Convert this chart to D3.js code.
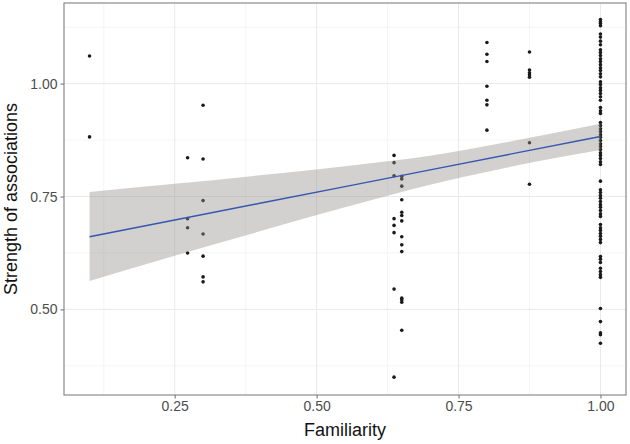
<!DOCTYPE html>
<html><head><meta charset="utf-8">
<script src="https://cdn.jsdelivr.net/npm/d3@7"></script>
<style>body{margin:0;background:#fff}svg{display:block}</style>
</head><body>
<svg id="c" width="630" height="444"></svg>
<script>
const famLevels = [0.1, 0.2727, 0.3, 0.6364, 0.65, 0.8, 0.875, 1.0];
const s010 = [1.061, 0.882];
const s027 = [0.836, 0.701, 0.681, 0.625];
const s030 = [0.952, 0.833, 0.741, 0.667, 0.618, 0.572, 0.561];
const s064 = [0.841, 0.825, 0.796, 0.701, 0.686, 0.670, 0.545, 0.350];
const s065 = [0.795, 0.789, 0.773, 0.743, 0.715, 0.708, 0.696, 0.661, 0.643, 0.628, 0.525, 0.521, 0.516, 0.454];
const s080 = [1.091, 1.065, 1.049, 0.994, 0.963, 0.953, 0.897];
const s0875 = [1.070, 1.030, 1.024, 1.019, 1.014, 0.869, 0.777];
const s100 = [1.142, 1.137, 1.133, 1.128, 1.110, 1.103, 1.094, 1.086,
  1.075, 1.069, 1.062, 1.055, 1.049, 1.042, 1.035, 1.029, 1.022, 1.015,
  1.004, 0.998, 0.991, 0.985, 0.978, 0.971, 0.963, 0.947, 0.940, 0.934,
  0.914, 0.907, 0.900, 0.894, 0.887, 0.881, 0.874, 0.867, 0.861, 0.854, 0.847, 0.841, 0.834, 0.827, 0.821,
  0.784, 0.765, 0.759, 0.752, 0.746, 0.739, 0.732, 0.726, 0.719, 0.712, 0.706,
  0.688, 0.681, 0.675, 0.668, 0.662, 0.655, 0.648,
  0.617, 0.611, 0.604, 0.591, 0.584, 0.577, 0.571,
  0.502, 0.473, 0.448, 0.444, 0.425];
const groups = [s010, s027, s030, s064, s065, s080, s0875, s100];

// fitted line + confidence band
const fitX  = [0.1, 0.25, 0.4, 0.55, 0.7, 0.85, 1.0];
const fitY  = [0.661, 0.698, 0.735, 0.772, 0.809, 0.846, 0.883];
const fitLo = [0.563, 0.619, 0.673, 0.726, 0.776, 0.818, 0.853];
const fitHi = [0.760, 0.778, 0.797, 0.817, 0.840, 0.874, 0.911];

const xTicks = [0.25, 0.5, 0.75, 1.0];
const xMinor = [0.125, 0.375, 0.625, 0.875];
const yTicks = [0.5, 0.75, 1.0];
const yMinor = [0.375, 0.625, 0.875, 1.125];

const L = 64, R = 626, T = 3, B = 395;
const x = d3.scaleLinear().domain([0.055, 1.045]).range([L, R]);
const y = d3.scaleLinear().domain([0.3105, 1.1785]).range([B, T]);
const svg = d3.select("#c");

const g = svg.append("g");
// minor grid
g.selectAll(".xm").data(xMinor).join("line").attr("x1", d => x(d)).attr("x2", d => x(d))
  .attr("y1", T).attr("y2", B).attr("stroke", "#f3f3f3").attr("stroke-width", 0.8);
g.selectAll(".ym").data(yMinor).join("line").attr("y1", d => y(d)).attr("y2", d => y(d))
  .attr("x1", L).attr("x2", R).attr("stroke", "#f3f3f3").attr("stroke-width", 0.8);
// major grid
g.selectAll(".xg").data(xTicks).join("line").attr("x1", d => x(d)).attr("x2", d => x(d))
  .attr("y1", T).attr("y2", B).attr("stroke", "#e9e9e9").attr("stroke-width", 1);
g.selectAll(".yg").data(yTicks).join("line").attr("y1", d => y(d)).attr("y2", d => y(d))
  .attr("x1", L).attr("x2", R).attr("stroke", "#e9e9e9").attr("stroke-width", 1);

// points
const pts = [];
groups.forEach((arr, i) => arr.forEach(v => pts.push([famLevels[i], v])));
svg.append("g").selectAll("circle").data(pts).join("circle")
  .attr("cx", d => x(d[0])).attr("cy", d => y(d[1])).attr("r", 1.8).attr("fill", "#1a1a1a");

// band
const band = fitX.map((v, i) => [v, fitLo[i], fitHi[i]]);
svg.append("path").datum(band)
  .attr("d", d3.area().x(d => x(d[0])).y0(d => y(d[1])).y1(d => y(d[2])).curve(d3.curveMonotoneX))
  .attr("fill", "rgb(150,142,142)").attr("fill-opacity", 0.42);
// line
svg.append("path").datum(fitX.map((v, i) => [v, fitY[i]]))
  .attr("d", d3.line().x(d => x(d[0])).y(d => y(d[1])))
  .attr("fill", "none").attr("stroke", "#3557b0").attr("stroke-width", 1.4);

// border
svg.append("rect").attr("x", L).attr("y", T).attr("width", R - L).attr("height", B - T)
  .attr("fill", "none").attr("stroke", "#8a8a8a").attr("stroke-width", 1.2);

// axes
const xa = svg.append("g").attr("transform", `translate(0,${B})`)
  .call(d3.axisBottom(x).tickValues(xTicks).tickFormat(d3.format(".2f")).tickSize(3.5).tickPadding(3));
const ya = svg.append("g").attr("transform", `translate(${L},0)`)
  .call(d3.axisLeft(y).tickValues(yTicks).tickFormat(d3.format(".2f")).tickSize(3.5).tickPadding(3));
[xa, ya].forEach(a => {
  a.select(".domain").remove();
  a.selectAll(".tick line").attr("stroke", "#7a7a7a").attr("stroke-width", 1.1);
  a.selectAll(".tick text").attr("fill", "#4d4d4d").style("font-family", "Liberation Sans, Arial, sans-serif").style("font-size", "14px");
});

svg.append("text").attr("x", (L + R) / 2).attr("y", 436).attr("text-anchor", "middle")
  .style("font-family", "Liberation Sans, Arial, sans-serif").style("font-size", "18px").attr("fill", "#111")
  .text("Familiarity");
svg.append("text").attr("transform", `translate(17,${(T + B) / 2}) rotate(-90)`).attr("text-anchor", "middle")
  .style("font-family", "Liberation Sans, Arial, sans-serif").style("font-size", "18px").attr("fill", "#111")
  .text("Strength of associations");
</script>
</body></html>
